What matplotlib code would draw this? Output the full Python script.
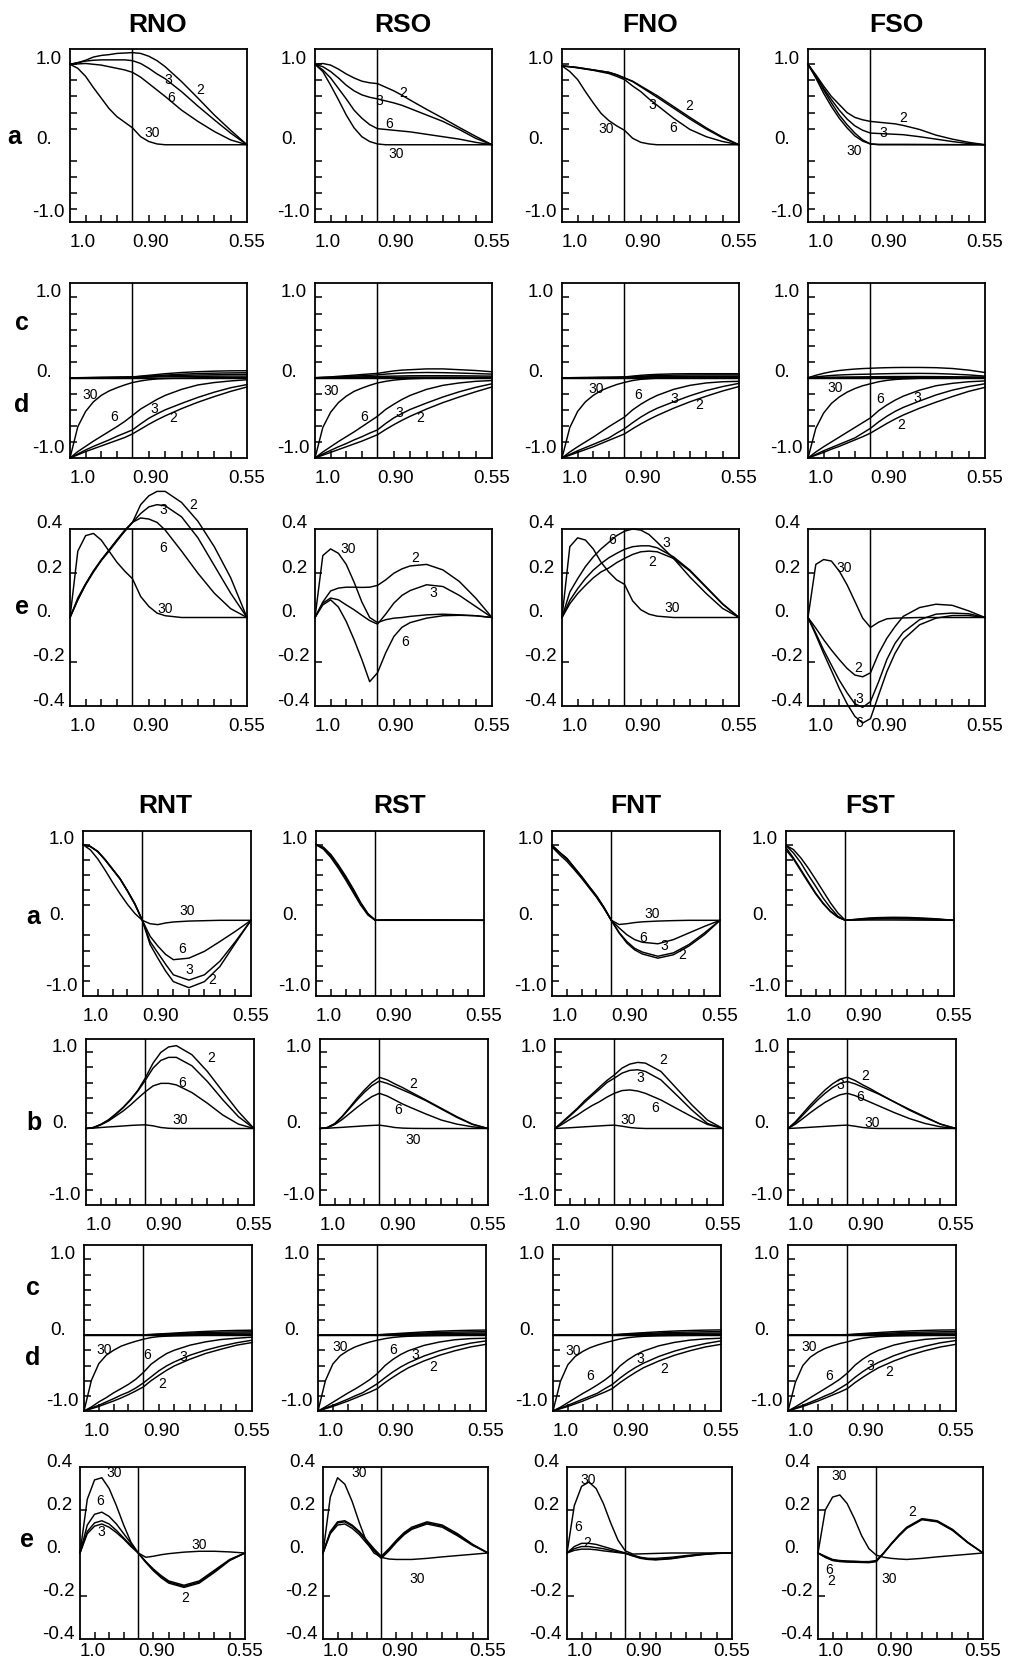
import numpy as np
import matplotlib
matplotlib.use("Agg")
import matplotlib.pyplot as plt
import matplotlib.transforms as mtransforms

SANS = ["Liberation Sans", "DejaVu Sans"]
plt.rcParams["font.family"] = SANS

FIG_W, FIG_H = 1015, 1660
SPLIT = 0.353  # share of the axis width taken by 1.0 .. 0.90
TICK_FS = 13.5

# radius grid shared by all curves
R = [1.0, 0.9875, 0.975, 0.9625, 0.95, 0.9375, 0.925, 0.9125, 0.90,
     0.875, 0.85, 0.825, 0.80, 0.75, 0.70, 0.65, 0.60, 0.55]
X_MINOR = [0.975, 0.95, 0.925, 0.85, 0.80, 0.75, 0.70, 0.65, 0.60]
X_LABELS = [(1.0, "1.0", "left"), (0.90, "0.90", "left"), (0.55, "0.55", "center")]
UNIT_YLABELS = [(1.0, "1.0"), (0.0, "0.")]
E_YLABELS = [(0.4, "0.4"), (0.2, "0.2"), (0.0, "0."), (-0.2, "-0.2"), (-0.4, "-0.4")]

# ---------------- upper block: RNO RSO FNO FSO ----------------
RNO_A = {
    "2": [1.0, 1.02, 1.05, 1.09, 1.11, 1.12, 1.135, 1.14, 1.145, 1.135, 1.10, 1.045, 0.97, 0.785, 0.58, 0.37, 0.18, 0.0],
    "3": [1.0, 1.02, 1.04, 1.05, 1.055, 1.055, 1.055, 1.055, 1.045, 1.01, 0.95, 0.88, 0.82, 0.66, 0.48, 0.31, 0.145, 0.0],
    "6": [1.0, 1.005, 1.01, 1.0, 0.99, 0.97, 0.95, 0.93, 0.90, 0.84, 0.76, 0.68, 0.60, 0.43, 0.29, 0.165, 0.06, 0.0],
    "30": [1.0, 0.95, 0.85, 0.71, 0.58, 0.45, 0.35, 0.28, 0.21, 0.10, 0.04, 0.01, 0.0, 0.0, 0.0, 0.0, 0.0, 0.0],
}
RSO_A = {
    "2": [1.0, 1.01, 0.99, 0.94, 0.88, 0.83, 0.79, 0.77, 0.76, 0.715, 0.67, 0.615, 0.555, 0.44, 0.33, 0.215, 0.105, 0.0],
    "3": [1.0, 0.97, 0.91, 0.83, 0.74, 0.67, 0.62, 0.59, 0.57, 0.545, 0.52, 0.49, 0.45, 0.37, 0.29, 0.19, 0.08, 0.0],
    "6": [1.0, 0.93, 0.83, 0.70, 0.57, 0.43, 0.33, 0.25, 0.20, 0.19, 0.18, 0.17, 0.16, 0.13, 0.10, 0.07, 0.03, 0.0],
    "30": [1.0, 0.91, 0.74, 0.56, 0.37, 0.21, 0.10, 0.04, 0.01, 0.0, 0.0, 0.0, 0.0, 0.0, 0.0, 0.0, 0.0, 0.0],
}
FNO_A = {
    "2": [0.98, 0.97, 0.96, 0.945, 0.93, 0.915, 0.90, 0.87, 0.83, 0.79, 0.73, 0.67, 0.61, 0.475, 0.34, 0.21, 0.095, 0.0],
    "3": [0.98, 0.97, 0.96, 0.945, 0.93, 0.915, 0.90, 0.87, 0.83, 0.785, 0.72, 0.655, 0.59, 0.455, 0.32, 0.195, 0.085, 0.0],
    "6": [0.98, 0.97, 0.955, 0.94, 0.925, 0.905, 0.885, 0.85, 0.81, 0.73, 0.66, 0.57, 0.49, 0.33, 0.19, 0.10, 0.04, 0.0],
    "30": [0.98, 0.91, 0.81, 0.66, 0.52, 0.39, 0.30, 0.235, 0.18, 0.08, 0.03, 0.01, 0.0, 0.0, 0.0, 0.0, 0.0, 0.0],
}
FSO_A = {
    "2": [1.0, 0.87, 0.73, 0.60, 0.50, 0.40, 0.34, 0.31, 0.29, 0.28, 0.27, 0.26, 0.24, 0.19, 0.12, 0.07, 0.03, 0.0],
    "3": [1.0, 0.855, 0.70, 0.56, 0.43, 0.32, 0.235, 0.18, 0.145, 0.14, 0.135, 0.13, 0.125, 0.10, 0.07, 0.04, 0.015, 0.0],
    "6": [1.0, 0.85, 0.68, 0.52, 0.37, 0.25, 0.145, 0.06, 0.01, 0.005, 0.005, 0.005, 0.005, 0.004, 0.003, 0.002, 0.001, 0.0],
    "30": [1.0, 0.83, 0.64, 0.475, 0.33, 0.21, 0.11, 0.045, 0.01, 0.0, 0.0, 0.0, 0.0, 0.0, 0.0, 0.0, 0.0, 0.0],
}

RNO_CD = {
    "c1": [0, 0, 0.001, 0.002, 0.003, 0.004, 0.006, 0.008, 0.01, 0.02, 0.03, 0.04, 0.05, 0.065, 0.075, 0.082, 0.086, 0.087],
    "c2": [0, 0, 0.001, 0.002, 0.003, 0.004, 0.005, 0.007, 0.009, 0.015, 0.021, 0.027, 0.033, 0.044, 0.052, 0.057, 0.06, 0.062],
    "c3": [0, 0, 0, 0.001, 0.002, 0.003, 0.004, 0.005, 0.006, 0.01, 0.014, 0.018, 0.022, 0.029, 0.034, 0.037, 0.04, 0.041],
    "c4": [0, 0, 0, 0, 0.001, 0.001, 0.002, 0.002, 0.003, 0.005, 0.007, 0.009, 0.011, 0.014, 0.017, 0.019, 0.02, 0.02],
    "2": [-1.0, -0.96, -0.92, -0.885, -0.85, -0.815, -0.78, -0.745, -0.70, -0.64, -0.58, -0.525, -0.475, -0.385, -0.305, -0.235, -0.17, -0.115],
    "3": [-1.0, -0.95, -0.90, -0.855, -0.815, -0.775, -0.73, -0.69, -0.65, -0.575, -0.505, -0.45, -0.40, -0.32, -0.245, -0.18, -0.125, -0.085],
    "6": [-1.0, -0.92, -0.855, -0.79, -0.73, -0.67, -0.61, -0.545, -0.47, -0.39, -0.33, -0.27, -0.22, -0.145, -0.09, -0.06, -0.04, -0.025],
    "30": [-1.0, -0.61, -0.42, -0.30, -0.22, -0.165, -0.125, -0.09, -0.06, -0.04, -0.025, -0.015, -0.01, -0.004, 0.0, 0.0, 0.0, 0.0],
}
RSO_CD = {
    "c1": [0, 0.005, 0.01, 0.018, 0.025, 0.032, 0.04, 0.047, 0.054, 0.07, 0.085, 0.095, 0.10, 0.11, 0.11, 0.10, 0.09, 0.074],
    "c2": [0, 0.003, 0.006, 0.01, 0.015, 0.02, 0.025, 0.03, 0.035, 0.045, 0.052, 0.058, 0.062, 0.065, 0.063, 0.058, 0.052, 0.045],
    "c3": [0, 0.001, 0.003, 0.005, 0.007, 0.009, 0.011, 0.013, 0.015, 0.018, 0.02, 0.022, 0.024, 0.025, 0.025, 0.024, 0.022, 0.02],
    "c4": [0, 0, 0, 0.001, 0.001, 0.002, 0.002, 0.003, 0.003, 0.004, 0.005, 0.006, 0.006, 0.007, 0.007, 0.007, 0.006, 0.005],
    "2": [-1.0, -0.965, -0.93, -0.895, -0.86, -0.825, -0.79, -0.75, -0.71, -0.645, -0.585, -0.53, -0.48, -0.39, -0.31, -0.24, -0.175, -0.115],
    "3": [-1.0, -0.95, -0.905, -0.86, -0.82, -0.775, -0.735, -0.69, -0.65, -0.57, -0.50, -0.445, -0.395, -0.315, -0.24, -0.175, -0.12, -0.075],
    "6": [-1.0, -0.925, -0.86, -0.795, -0.735, -0.675, -0.61, -0.545, -0.48, -0.395, -0.33, -0.27, -0.22, -0.145, -0.095, -0.065, -0.045, -0.035],
    "30": [-1.0, -0.62, -0.43, -0.31, -0.23, -0.17, -0.13, -0.095, -0.065, -0.045, -0.03, -0.02, -0.013, -0.006, -0.003, 0.0, 0.0, 0.0],
}
FNO_CD = {
    "c1": [0, 0, 0.001, 0.002, 0.003, 0.004, 0.005, 0.007, 0.01, 0.02, 0.03, 0.037, 0.042, 0.048, 0.05, 0.05, 0.05, 0.05],
    "c2": [0, 0, 0.001, 0.001, 0.002, 0.003, 0.004, 0.005, 0.007, 0.013, 0.019, 0.024, 0.028, 0.032, 0.034, 0.035, 0.035, 0.035],
    "c3": [0, 0, 0, 0.001, 0.001, 0.002, 0.002, 0.003, 0.004, 0.007, 0.01, 0.012, 0.014, 0.016, 0.017, 0.018, 0.018, 0.018],
    "c4": [0, 0, 0, 0, 0, 0.001, 0.001, 0.001, 0.002, 0.003, 0.004, 0.004, 0.005, 0.005, 0.005, 0.005, 0.005, 0.005],
    "2": [-1.0, -0.965, -0.93, -0.895, -0.86, -0.82, -0.78, -0.74, -0.70, -0.635, -0.575, -0.52, -0.47, -0.38, -0.30, -0.23, -0.165, -0.11],
    "3": [-1.0, -0.955, -0.91, -0.87, -0.83, -0.79, -0.75, -0.69, -0.635, -0.56, -0.49, -0.43, -0.38, -0.30, -0.225, -0.16, -0.11, -0.07],
    "6": [-1.0, -0.925, -0.86, -0.80, -0.74, -0.675, -0.61, -0.55, -0.49, -0.40, -0.33, -0.27, -0.22, -0.145, -0.095, -0.065, -0.05, -0.045],
    "30": [-1.0, -0.62, -0.42, -0.30, -0.22, -0.16, -0.12, -0.085, -0.058, -0.035, -0.02, -0.012, -0.006, -0.002, 0.0, 0.0, 0.0, 0.0],
}
FSO_CD = {
    "c1": [0, 0.03, 0.055, 0.075, 0.09, 0.10, 0.108, 0.114, 0.118, 0.122, 0.125, 0.127, 0.128, 0.128, 0.125, 0.115, 0.095, 0.065],
    "c2": [0, 0.01, 0.02, 0.028, 0.034, 0.038, 0.041, 0.043, 0.045, 0.048, 0.05, 0.052, 0.053, 0.054, 0.052, 0.045, 0.035, 0.02],
    "c3": [0, 0.003, 0.005, 0.007, 0.008, 0.009, 0.01, 0.011, 0.012, 0.013, 0.014, 0.015, 0.015, 0.015, 0.014, 0.012, 0.01, 0.008],
    "c4": [0, 0, 0, 0, 0.001, 0.001, 0.001, 0.002, 0.002, 0.002, 0.003, 0.003, 0.003, 0.003, 0.003, 0.003, 0.002, 0.002],
    "2": [-1.0, -0.965, -0.93, -0.89, -0.855, -0.815, -0.775, -0.735, -0.69, -0.63, -0.57, -0.515, -0.465, -0.38, -0.305, -0.235, -0.17, -0.12],
    "3": [-1.0, -0.955, -0.91, -0.87, -0.83, -0.79, -0.75, -0.69, -0.63, -0.55, -0.48, -0.42, -0.37, -0.29, -0.215, -0.155, -0.11, -0.075],
    "6": [-1.0, -0.925, -0.86, -0.80, -0.74, -0.68, -0.62, -0.56, -0.50, -0.41, -0.34, -0.28, -0.23, -0.155, -0.10, -0.07, -0.05, -0.04],
    "30": [-1.0, -0.63, -0.44, -0.32, -0.24, -0.18, -0.135, -0.10, -0.075, -0.05, -0.033, -0.022, -0.015, -0.007, -0.003, 0.0, 0.0, 0.0],
}

RNO_E = {
    "2": [0, 0.08, 0.15, 0.21, 0.26, 0.305, 0.35, 0.39, 0.43, 0.51, 0.55, 0.57, 0.57, 0.52, 0.435, 0.32, 0.18, 0.0],
    "3": [0, 0.08, 0.148, 0.205, 0.257, 0.30, 0.345, 0.39, 0.43, 0.47, 0.50, 0.51, 0.505, 0.455, 0.36, 0.235, 0.11, 0.0],
    "6": [0, 0.088, 0.153, 0.21, 0.26, 0.305, 0.35, 0.395, 0.43, 0.45, 0.445, 0.43, 0.395, 0.30, 0.20, 0.11, 0.04, 0.0],
    "30": [0, 0.30, 0.37, 0.38, 0.35, 0.30, 0.25, 0.21, 0.175, 0.095, 0.05, 0.02, 0.008, 0.0, 0.0, 0.0, 0.0, 0.0],
}
RSO_E = {
    "2": [0, 0.07, 0.12, 0.133, 0.137, 0.137, 0.136, 0.137, 0.145, 0.17, 0.20, 0.22, 0.233, 0.24, 0.215, 0.163, 0.088, 0.0],
    "3": [0, 0.065, 0.088, 0.08, 0.057, 0.035, 0.01, -0.014, -0.03, 0.015, 0.065, 0.10, 0.122, 0.148, 0.14, 0.10, 0.05, 0.0],
    "6": [0, 0.057, 0.08, 0.047, -0.018, -0.10, -0.19, -0.29, -0.25, -0.16, -0.086, -0.044, -0.023, -0.003, 0.008, 0.01, 0.008, 0.0],
    "30": [0, 0.28, 0.31, 0.29, 0.24, 0.16, 0.07, 0.0, -0.023, -0.01, -0.003, 0.0, 0.005, 0.012, 0.015, 0.012, 0.008, 0.0],
}
FNO_E = {
    "2": [0, 0.062, 0.108, 0.145, 0.179, 0.206, 0.224, 0.248, 0.267, 0.285, 0.297, 0.30, 0.297, 0.267, 0.21, 0.135, 0.06, 0.0],
    "3": [0, 0.077, 0.13, 0.176, 0.214, 0.244, 0.27, 0.29, 0.308, 0.32, 0.324, 0.324, 0.315, 0.274, 0.214, 0.138, 0.062, 0.0],
    "6": [0, 0.115, 0.175, 0.23, 0.274, 0.31, 0.34, 0.37, 0.39, 0.40, 0.395, 0.375, 0.34, 0.267, 0.183, 0.108, 0.041, 0.0],
    "30": [0, 0.32, 0.36, 0.35, 0.31, 0.25, 0.205, 0.17, 0.15, 0.075, 0.035, 0.015, 0.006, 0.0, 0.0, 0.0, 0.0, 0.0],
}
FSO_E = {
    "2": [0, -0.048, -0.10, -0.147, -0.19, -0.23, -0.26, -0.268, -0.25, -0.162, -0.094, -0.041, 0.005, 0.045, 0.06, 0.055, 0.03, 0.0],
    "3": [0, -0.071, -0.147, -0.215, -0.283, -0.34, -0.39, -0.406, -0.38, -0.29, -0.19, -0.117, -0.067, -0.01, 0.015, 0.02, 0.017, 0.0],
    "6": [0, -0.079, -0.162, -0.24, -0.32, -0.39, -0.447, -0.477, -0.457, -0.35, -0.245, -0.162, -0.10, -0.033, -0.003, 0.009, 0.009, 0.0],
    "30": [0, 0.24, 0.262, 0.255, 0.21, 0.148, 0.073, -0.003, -0.045, -0.021, -0.006, -0.003, -0.002, 0.0, 0.0, 0.0, 0.0, 0.0],
}

# ---------------- lower block: RNT RST FNT FST ----------------
RNT_A = {
    "2": [1.0, 0.975, 0.91, 0.80, 0.675, 0.55, 0.39, 0.22, 0.0, -0.32, -0.50, -0.67, -0.81, -0.89, -0.81, -0.61, -0.30, 0.0],
    "3": [1.0, 0.975, 0.91, 0.80, 0.675, 0.55, 0.39, 0.215, 0.0, -0.28, -0.43, -0.58, -0.72, -0.79, -0.72, -0.54, -0.28, 0.0],
    "6": [1.0, 0.975, 0.905, 0.795, 0.67, 0.545, 0.385, 0.21, 0.0, -0.21, -0.34, -0.45, -0.52, -0.50, -0.41, -0.28, -0.145, 0.0],
    "30": [1.0, 0.93, 0.81, 0.66, 0.50, 0.35, 0.21, 0.09, 0.0, -0.045, -0.057, -0.035, -0.022, -0.01, -0.005, 0.0, 0.0, 0.0],
}
RST_A = {
    "2": [1.0, 0.965, 0.87, 0.735, 0.585, 0.42, 0.24, 0.09, 0.0, 0.004, 0.006, 0.006, 0.006, 0.005, 0.004, 0.003, 0.002, 0.0],
    "3": [1.0, 0.96, 0.86, 0.72, 0.57, 0.405, 0.23, 0.085, 0.0, 0.003, 0.005, 0.005, 0.005, 0.004, 0.003, 0.002, 0.001, 0.0],
    "6": [1.0, 0.955, 0.85, 0.71, 0.555, 0.39, 0.22, 0.08, 0.0, 0.002, 0.003, 0.003, 0.003, 0.003, 0.002, 0.001, 0.001, 0.0],
    "30": [1.0, 0.94, 0.83, 0.69, 0.535, 0.37, 0.205, 0.07, 0.0, 0.0, 0.0, 0.0, 0.0, 0.0, 0.0, 0.0, 0.0, 0.0],
}
FNT_A = {
    "2": [0.99, 0.90, 0.82, 0.70, 0.58, 0.45, 0.325, 0.175, 0.0, -0.167, -0.30, -0.39, -0.445, -0.50, -0.455, -0.34, -0.19, 0.0],
    "3": [0.99, 0.90, 0.815, 0.695, 0.575, 0.445, 0.32, 0.17, 0.0, -0.16, -0.28, -0.37, -0.42, -0.475, -0.43, -0.32, -0.167, 0.0],
    "6": [0.99, 0.895, 0.81, 0.69, 0.57, 0.44, 0.315, 0.165, 0.0, -0.10, -0.19, -0.255, -0.29, -0.31, -0.255, -0.167, -0.08, 0.0],
    "30": [0.97, 0.87, 0.78, 0.67, 0.555, 0.43, 0.305, 0.16, 0.0, -0.055, -0.045, -0.03, -0.02, -0.01, -0.004, 0.0, 0.0, 0.0],
}
FST_A = {
    "2": [0.99, 0.935, 0.825, 0.69, 0.54, 0.385, 0.23, 0.097, 0.0, 0.01, 0.02, 0.03, 0.035, 0.04, 0.038, 0.03, 0.018, 0.0],
    "3": [0.99, 0.89, 0.76, 0.60, 0.45, 0.295, 0.165, 0.053, 0.0, 0.008, 0.016, 0.022, 0.027, 0.03, 0.028, 0.022, 0.012, 0.0],
    "6": [0.96, 0.825, 0.67, 0.515, 0.36, 0.23, 0.12, 0.044, 0.0, 0.005, 0.01, 0.014, 0.017, 0.02, 0.018, 0.014, 0.008, 0.0],
    "30": [0.93, 0.81, 0.655, 0.50, 0.35, 0.22, 0.115, 0.04, 0.0, 0.002, 0.003, 0.004, 0.004, 0.004, 0.003, 0.002, 0.001, 0.0],
}

RNT_B = {
    "2": [0, 0.013, 0.053, 0.11, 0.19, 0.276, 0.38, 0.50, 0.66, 0.855, 0.995, 1.066, 1.083, 0.965, 0.745, 0.48, 0.22, 0.0],
    "3": [0, 0.013, 0.053, 0.11, 0.184, 0.27, 0.37, 0.49, 0.63, 0.79, 0.89, 0.93, 0.93, 0.82, 0.614, 0.373, 0.154, 0.0],
    "6": [0, 0.01, 0.048, 0.096, 0.162, 0.228, 0.307, 0.395, 0.48, 0.557, 0.59, 0.59, 0.57, 0.47, 0.33, 0.175, 0.057, 0.0],
    "30": [0, 0.005, 0.013, 0.02, 0.026, 0.033, 0.04, 0.045, 0.048, 0.035, 0.013, 0.003, 0.0, 0.0, 0.0, 0.0, 0.0, 0.0],
}
RST_B = {
    "2": [0, 0.013, 0.066, 0.16, 0.276, 0.395, 0.504, 0.60, 0.67, 0.636, 0.583, 0.535, 0.48, 0.373, 0.263, 0.154, 0.057, 0.0],
    "3": [0, 0.013, 0.061, 0.154, 0.263, 0.373, 0.474, 0.56, 0.62, 0.59, 0.548, 0.504, 0.46, 0.364, 0.254, 0.145, 0.053, 0.0],
    "6": [0, 0.01, 0.053, 0.118, 0.197, 0.276, 0.35, 0.417, 0.46, 0.425, 0.373, 0.32, 0.276, 0.19, 0.11, 0.057, 0.022, 0.0],
    "30": [0, 0.003, 0.01, 0.015, 0.022, 0.028, 0.035, 0.04, 0.044, 0.03, 0.013, 0.005, 0.002, 0.0, 0.0, 0.0, 0.0, 0.0],
}
FNT_B = {
    "2": [0, 0.088, 0.175, 0.263, 0.364, 0.45, 0.54, 0.627, 0.70, 0.79, 0.842, 0.864, 0.855, 0.746, 0.526, 0.307, 0.11, 0.0],
    "3": [0, 0.079, 0.162, 0.25, 0.342, 0.43, 0.513, 0.60, 0.658, 0.724, 0.76, 0.768, 0.746, 0.636, 0.44, 0.24, 0.066, 0.0],
    "6": [0, 0.057, 0.118, 0.175, 0.24, 0.30, 0.35, 0.41, 0.46, 0.496, 0.504, 0.49, 0.46, 0.373, 0.263, 0.154, 0.053, 0.0],
    "30": [0, 0.005, 0.01, 0.016, 0.022, 0.028, 0.034, 0.04, 0.044, 0.03, 0.013, 0.004, 0.0, 0.0, 0.0, 0.0, 0.0, 0.0],
}
FST_B = {
    "2": [0, 0.088, 0.197, 0.307, 0.408, 0.504, 0.583, 0.645, 0.67, 0.627, 0.57, 0.518, 0.46, 0.35, 0.24, 0.145, 0.057, 0.0],
    "3": [0, 0.075, 0.175, 0.276, 0.373, 0.46, 0.535, 0.59, 0.614, 0.583, 0.54, 0.496, 0.452, 0.35, 0.25, 0.154, 0.057, 0.0],
    "6": [0, 0.057, 0.13, 0.206, 0.276, 0.342, 0.395, 0.44, 0.46, 0.43, 0.386, 0.342, 0.298, 0.21, 0.13, 0.066, 0.022, 0.0],
    "30": [0, 0.005, 0.01, 0.016, 0.022, 0.028, 0.034, 0.04, 0.044, 0.03, 0.013, 0.004, 0.0, 0.0, 0.0, 0.0, 0.0, 0.0],
}

RNT_CD = {
    "c1": [0, 0, 0, 0.001, 0.001, 0.002, 0.003, 0.004, 0.005, 0.01, 0.016, 0.022, 0.028, 0.04, 0.05, 0.058, 0.063, 0.066],
    "c2": [0, 0, 0, 0, 0.001, 0.001, 0.002, 0.003, 0.004, 0.008, 0.012, 0.016, 0.02, 0.028, 0.035, 0.04, 0.043, 0.045],
    "c3": [0, 0, 0, 0, 0, 0.001, 0.001, 0.002, 0.002, 0.005, 0.007, 0.01, 0.012, 0.017, 0.021, 0.024, 0.027, 0.028],
    "c4": [0, 0, 0, 0, 0, 0, 0.001, 0.001, 0.001, 0.002, 0.003, 0.004, 0.005, 0.007, 0.009, 0.01, 0.011, 0.012],
    "2": [-1.0, -0.97, -0.94, -0.903, -0.868, -0.828, -0.784, -0.735, -0.683, -0.60, -0.53, -0.463, -0.405, -0.317, -0.242, -0.185, -0.132, -0.097],
    "3": [-1.0, -0.96, -0.925, -0.88, -0.837, -0.79, -0.75, -0.696, -0.63, -0.55, -0.47, -0.405, -0.352, -0.264, -0.198, -0.145, -0.10, -0.066],
    "6": [-1.0, -0.947, -0.88, -0.824, -0.76, -0.705, -0.648, -0.58, -0.493, -0.383, -0.308, -0.242, -0.198, -0.132, -0.088, -0.057, -0.04, -0.026],
    "30": [-1.0, -0.595, -0.375, -0.264, -0.198, -0.145, -0.11, -0.08, -0.053, -0.031, -0.018, -0.013, -0.009, -0.004, 0.0, 0.0, 0.0, 0.0],
}
RST_CD = {
    "c1": [0, 0, 0, 0.001, 0.002, 0.003, 0.004, 0.005, 0.006, 0.012, 0.018, 0.025, 0.031, 0.043, 0.053, 0.06, 0.065, 0.068],
    "c2": [0, 0, 0, 0, 0.001, 0.001, 0.002, 0.003, 0.004, 0.008, 0.012, 0.016, 0.021, 0.029, 0.036, 0.041, 0.044, 0.046],
    "c3": [0, 0, 0, 0, 0, 0.001, 0.001, 0.002, 0.002, 0.005, 0.007, 0.01, 0.012, 0.017, 0.021, 0.024, 0.027, 0.028],
    "c4": [0, 0, 0, 0, 0, 0, 0.001, 0.001, 0.001, 0.002, 0.003, 0.004, 0.005, 0.007, 0.009, 0.01, 0.011, 0.012],
    "2": [-1.0, -0.97, -0.94, -0.905, -0.87, -0.83, -0.79, -0.75, -0.705, -0.625, -0.555, -0.49, -0.43, -0.34, -0.265, -0.205, -0.155, -0.12],
    "3": [-1.0, -0.96, -0.925, -0.885, -0.845, -0.80, -0.76, -0.70, -0.64, -0.56, -0.485, -0.42, -0.365, -0.275, -0.205, -0.15, -0.105, -0.075],
    "6": [-1.0, -0.945, -0.885, -0.825, -0.765, -0.71, -0.65, -0.585, -0.507, -0.40, -0.32, -0.255, -0.205, -0.135, -0.09, -0.06, -0.045, -0.04],
    "30": [-1.0, -0.60, -0.38, -0.27, -0.205, -0.155, -0.12, -0.09, -0.066, -0.045, -0.03, -0.02, -0.014, -0.008, -0.004, -0.002, 0.0, 0.0],
}
FNT_CD = {
    "c1": [0, 0, 0, 0.001, 0.002, 0.003, 0.004, 0.005, 0.006, 0.013, 0.02, 0.027, 0.033, 0.045, 0.055, 0.062, 0.067, 0.07],
    "c2": [0, 0, 0, 0, 0.001, 0.001, 0.002, 0.003, 0.004, 0.008, 0.012, 0.017, 0.022, 0.03, 0.037, 0.042, 0.045, 0.047],
    "c3": [0, 0, 0, 0, 0, 0.001, 0.001, 0.002, 0.002, 0.005, 0.007, 0.01, 0.012, 0.017, 0.021, 0.024, 0.027, 0.028],
    "c4": [0, 0, 0, 0, 0, 0, 0.001, 0.001, 0.001, 0.002, 0.003, 0.004, 0.005, 0.007, 0.009, 0.01, 0.011, 0.012],
    "2": [-1.0, -0.97, -0.94, -0.905, -0.87, -0.83, -0.79, -0.75, -0.705, -0.625, -0.555, -0.49, -0.43, -0.34, -0.265, -0.205, -0.155, -0.12],
    "3": [-1.0, -0.96, -0.925, -0.885, -0.845, -0.805, -0.765, -0.705, -0.65, -0.565, -0.49, -0.425, -0.37, -0.28, -0.21, -0.155, -0.11, -0.075],
    "6": [-1.0, -0.95, -0.89, -0.83, -0.77, -0.715, -0.655, -0.59, -0.515, -0.405, -0.325, -0.26, -0.21, -0.14, -0.095, -0.065, -0.048, -0.04],
    "30": [-1.0, -0.61, -0.39, -0.28, -0.215, -0.165, -0.13, -0.10, -0.075, -0.05, -0.033, -0.022, -0.015, -0.008, -0.004, -0.002, 0.0, 0.0],
}
FST_CD = {
    "c1": [0, 0, 0.001, 0.002, 0.003, 0.004, 0.005, 0.006, 0.008, 0.015, 0.022, 0.029, 0.035, 0.047, 0.056, 0.063, 0.068, 0.07],
    "c2": [0, 0, 0, 0.001, 0.001, 0.002, 0.003, 0.003, 0.004, 0.009, 0.013, 0.018, 0.022, 0.03, 0.037, 0.042, 0.045, 0.047],
    "c3": [0, 0, 0, 0, 0, 0.001, 0.001, 0.002, 0.002, 0.005, 0.007, 0.01, 0.012, 0.017, 0.021, 0.024, 0.027, 0.028],
    "c4": [0, 0, 0, 0, 0, 0, 0.001, 0.001, 0.001, 0.002, 0.003, 0.004, 0.005, 0.007, 0.009, 0.01, 0.011, 0.012],
    "2": [-1.0, -0.97, -0.94, -0.905, -0.87, -0.83, -0.79, -0.75, -0.705, -0.625, -0.555, -0.49, -0.43, -0.34, -0.265, -0.205, -0.155, -0.12],
    "3": [-1.0, -0.96, -0.925, -0.885, -0.845, -0.80, -0.76, -0.70, -0.64, -0.555, -0.48, -0.415, -0.36, -0.27, -0.20, -0.145, -0.10, -0.07],
    "6": [-1.0, -0.945, -0.885, -0.825, -0.765, -0.705, -0.645, -0.58, -0.50, -0.395, -0.315, -0.25, -0.20, -0.13, -0.085, -0.055, -0.04, -0.035],
    "30": [-1.0, -0.62, -0.40, -0.29, -0.225, -0.175, -0.14, -0.11, -0.088, -0.06, -0.04, -0.027, -0.018, -0.01, -0.005, -0.002, 0.0, 0.0],
}

RNT_E = {
    "2": [0, 0.09, 0.125, 0.135, 0.12, 0.095, 0.065, 0.03, 0.0, -0.044, -0.083, -0.115, -0.14, -0.16, -0.14, -0.09, -0.035, 0.0],
    "3": [0, 0.10, 0.14, 0.15, 0.135, 0.105, 0.07, 0.035, 0.0, -0.042, -0.08, -0.11, -0.135, -0.155, -0.135, -0.085, -0.032, 0.0],
    "6": [0, 0.13, 0.18, 0.19, 0.17, 0.135, 0.09, 0.045, 0.0, -0.04, -0.075, -0.105, -0.13, -0.15, -0.13, -0.08, -0.03, 0.0],
    "30": [0, 0.25, 0.34, 0.35, 0.30, 0.22, 0.13, 0.05, 0.0, -0.02, -0.015, -0.008, -0.003, 0.004, 0.008, 0.008, 0.005, 0.0],
}
RST_E = {
    "2": [0, 0.10, 0.145, 0.15, 0.13, 0.10, 0.06, 0.02, -0.015, 0.02, 0.06, 0.095, 0.12, 0.145, 0.13, 0.09, 0.04, 0.0],
    "3": [0, 0.095, 0.14, 0.145, 0.125, 0.095, 0.055, 0.015, -0.02, 0.015, 0.055, 0.09, 0.115, 0.14, 0.125, 0.085, 0.038, 0.0],
    "6": [0, 0.09, 0.13, 0.135, 0.115, 0.085, 0.045, 0.01, -0.025, 0.01, 0.05, 0.085, 0.11, 0.135, 0.12, 0.08, 0.035, 0.0],
    "30": [0, 0.26, 0.35, 0.32, 0.24, 0.14, 0.05, 0.0, -0.02, -0.028, -0.03, -0.03, -0.03, -0.025, -0.018, -0.012, -0.006, 0.0],
}
FNT_E = {
    "2": [0, 0.012, 0.018, 0.018, 0.015, 0.01, 0.006, 0.002, -0.002, -0.014, -0.025, -0.03, -0.032, -0.027, -0.017, -0.008, -0.002, 0.0],
    "3": [0, 0.02, 0.03, 0.03, 0.025, 0.02, 0.012, 0.005, 0.0, -0.012, -0.022, -0.028, -0.03, -0.025, -0.015, -0.007, -0.002, 0.0],
    "6": [0, 0.03, 0.045, 0.045, 0.04, 0.03, 0.02, 0.01, 0.0, -0.01, -0.02, -0.025, -0.025, -0.02, -0.012, -0.005, 0.0, 0.0],
    "30": [0, 0.22, 0.31, 0.33, 0.30, 0.23, 0.14, 0.06, 0.01, -0.005, -0.004, -0.003, -0.002, 0.0, 0.0, 0.0, 0.0, 0.0],
}
FST_E = {
    "2": [0, -0.02, -0.035, -0.04, -0.042, -0.043, -0.044, -0.045, -0.04, 0.0, 0.045, 0.085, 0.12, 0.16, 0.15, 0.11, 0.05, 0.0],
    "3": [0, -0.015, -0.03, -0.035, -0.037, -0.038, -0.04, -0.04, -0.035, 0.002, 0.043, 0.082, 0.117, 0.157, 0.147, 0.107, 0.049, 0.0],
    "6": [0, -0.02, -0.033, -0.038, -0.04, -0.041, -0.042, -0.043, -0.038, 0.0, 0.042, 0.08, 0.115, 0.155, 0.145, 0.105, 0.048, 0.0],
    "30": [0, 0.20, 0.26, 0.27, 0.23, 0.16, 0.08, 0.02, -0.01, -0.02, -0.025, -0.028, -0.03, -0.025, -0.018, -0.012, -0.006, 0.0],
}

# curve-label placement: (text, x as axes fraction, y in data units)
LABELS = {
    "RNO_A": [("2", 0.734, 0.68), ("3", 0.554, 0.81), ("6", 0.569, 0.58), ("30", 0.465, 0.145)],
    "RSO_A": [("2", 0.497, 0.64), ("3", 0.364, 0.54), ("6", 0.421, 0.26), ("30", 0.459, -0.12)],
    "FNO_A": [("3", 0.51, 0.50), ("2", 0.72, 0.48), ("6", 0.625, 0.21), ("30", 0.248, 0.19)],
    "FSO_A": [("2", 0.538, 0.33), ("3", 0.424, 0.145), ("30", 0.26, -0.08)],
    "RNO_CD": [("30", 0.113, -0.215), ("6", 0.248, -0.485), ("3", 0.474, -0.39), ("2", 0.583, -0.505)],
    "RSO_CD": [("30", 0.094, -0.17), ("6", 0.278, -0.485), ("3", 0.478, -0.435), ("2", 0.595, -0.505)],
    "FNO_CD": [("30", 0.192, -0.14), ("6", 0.428, -0.215), ("3", 0.636, -0.26), ("2", 0.777, -0.34)],
    "FSO_CD": [("30", 0.152, -0.125), ("6", 0.41, -0.27), ("3", 0.62, -0.25), ("2", 0.524, -0.59)],
    "RNO_E": [("2", 0.697, 0.51), ("3", 0.525, 0.485), ("6", 0.527, 0.315), ("30", 0.54, 0.038)],
    "RSO_E": [("30", 0.188, 0.31), ("2", 0.568, 0.27), ("3", 0.666, 0.11), ("6", 0.512, -0.11)],
    "FNO_E": [("6", 0.284, 0.35), ("3", 0.587, 0.335), ("2", 0.511, 0.25), ("30", 0.625, 0.042)],
    "FSO_E": [("30", 0.202, 0.225), ("2", 0.282, -0.23), ("3", 0.287, -0.37), ("6", 0.291, -0.475)],
    "RNT_A": [("30", 0.618, 0.12), ("6", 0.588, -0.375), ("3", 0.633, -0.65), ("2", 0.767, -0.785)],
    "RST_A": [],
    "FNT_A": [("30", 0.598, 0.09), ("6", 0.544, -0.235), ("3", 0.667, -0.335), ("2", 0.777, -0.455)],
    "FST_A": [],
    "RNT_B": [("2", 0.748, 0.92), ("6", 0.57, 0.60), ("30", 0.56, 0.11)],
    "RST_B": [("2", 0.554, 0.583), ("6", 0.465, 0.24), ("30", 0.554, -0.154)],
    "FNT_B": [("2", 0.646, 0.90), ("3", 0.507, 0.66), ("6", 0.596, 0.263), ("30", 0.437, 0.11)],
    "FST_B": [("2", 0.462, 0.68), ("3", 0.313, 0.57), ("6", 0.432, 0.41), ("30", 0.502, 0.075)],
    "RNT_CD": [("30", 0.119, -0.20), ("6", 0.374, -0.265), ("3", 0.592, -0.286), ("2", 0.463, -0.64)],
    "RST_CD": [("30", 0.129, -0.154), ("6", 0.447, -0.20), ("3", 0.577, -0.264), ("2", 0.686, -0.42)],
    "FNT_CD": [("30", 0.12, -0.207), ("6", 0.219, -0.54), ("3", 0.522, -0.32), ("2", 0.661, -0.44)],
    "FST_CD": [("30", 0.124, -0.154), ("6", 0.243, -0.54), ("3", 0.488, -0.41), ("2", 0.602, -0.485)],
    "RNT_E": [("30", 0.21, 0.37), ("6", 0.12, 0.24), ("3", 0.13, 0.10), ("30", 0.72, 0.035), ("2", 0.64, -0.21)],
    "RST_E": [("30", 0.22, 0.37), ("30", 0.57, -0.12)],
    "FNT_E": [("30", 0.13, 0.34), ("6", 0.07, 0.12), ("2", 0.12, 0.045)],
    "FST_E": [("30", 0.13, 0.36), ("6", 0.07, -0.08), ("2", 0.08, -0.13), ("2", 0.57, 0.19), ("30", 0.43, -0.12)],
}

DATA = {
    "RNO_A": RNO_A, "RSO_A": RSO_A, "FNO_A": FNO_A, "FSO_A": FSO_A,
    "RNO_CD": RNO_CD, "RSO_CD": RSO_CD, "FNO_CD": FNO_CD, "FSO_CD": FSO_CD,
    "RNO_E": RNO_E, "RSO_E": RSO_E, "FNO_E": FNO_E, "FSO_E": FSO_E,
    "RNT_A": RNT_A, "RST_A": RST_A, "FNT_A": FNT_A, "FST_A": FST_A,
    "RNT_B": RNT_B, "RST_B": RST_B, "FNT_B": FNT_B, "FST_B": FST_B,
    "RNT_CD": RNT_CD, "RST_CD": RST_CD, "FNT_CD": FNT_CD, "FST_CD": FST_CD,
    "RNT_E": RNT_E, "RST_E": RST_E, "FNT_E": FNT_E, "FST_E": FST_E,
}

# row layout in pixels: (columns, row suffix, kind, ylim, top, height, lefts, width, x-label gap)
ROWS = [
    (["RNO", "RSO", "FNO", "FSO"], "A", "unit", (-0.96, 1.19), 49, 173, [70, 315, 562, 808], 177, 12),
    (["RNO", "RSO", "FNO", "FSO"], "CD", "unit", (-1.0, 1.18), 283, 175, [70, 315, 562, 808], 177, 12),
    (["RNO", "RSO", "FNO", "FSO"], "E", "e", (-0.4, 0.4), 529, 177, [70, 315, 562, 808], 177, 12),
    (["RNT", "RST", "FNT", "FST"], "A", "unit", (-1.0, 1.18), 831, 165, [83, 316, 552, 786], 168, 12),
    (["RNT", "RST", "FNT", "FST"], "B", "unit", (-1.0, 1.17), 1039, 166, [86, 320, 555, 788], 168, 12),
    (["RNT", "RST", "FNT", "FST"], "CD", "unit", (-1.0, 1.19), 1245, 166, [84, 318, 553, 788], 168, 12),
    (["RNT", "RST", "FNT", "FST"], "E", "e", (-0.4, 0.4), 1467, 172, [80, 323, 567, 818], 165, 4),
]

TITLES = [("RNO", 158, 25), ("RSO", 403, 25), ("FNO", 650, 25), ("FSO", 896, 25),
          ("RNT", 165, 806), ("RST", 400, 806), ("FNT", 636, 806), ("FST", 870, 806)]
ROW_LETTERS = [("a", 14, 137), ("c", 22, 323), ("d", 22, 405), ("e", 22, 607),
               ("a", 33, 917), ("b", 34, 1123), ("c", 33, 1288), ("d", 33, 1358), ("e", 27, 1540)]


def position(r):
    r = np.asarray(r, dtype=float)
    return np.where(r >= 0.9, (1.0 - r) / 0.1 * SPLIT,
                    SPLIT + (0.9 - r) / 0.35 * (1 - SPLIT))


def fwd(r):
    # increasing in r; with xlim(1.0, 0.55) the axis runs 1.0 -> 0.55
    return -position(r)


def inv(q):
    p = -np.asarray(q, dtype=float)
    return np.where(p <= SPLIT, 1.0 - p / SPLIT * 0.1,
                    0.9 - (p - SPLIT) / (1 - SPLIT) * 0.35)


def draw_panel(fig, ax, curves, labels, kind, ylim, xgap):
    ax.set_xscale("function", functions=(fwd, inv))
    for vals in curves.values():
        ax.plot(R, vals, color="black", lw=1.05, clip_on=False, solid_joinstyle="round")
    ax.axvline(0.90, color="black", lw=1.05)
    if "c1" in curves:
        ax.axhline(0.0, color="black", lw=1.05)
    ax.set_xlim(1.0, 0.55)
    ax.set_ylim(*ylim)
    for sp in ax.spines.values():
        sp.set_linewidth(1.3)

    # tick marks, all pointing inwards
    ax.set_xticks([])
    ax.set_xticks(X_MINOR, minor=True)
    if kind == "unit":
        yt = [v for v in np.round(np.arange(-0.8, 1.01, 0.2), 2) if abs(v) > 1e-9]
    else:
        yt = [-0.2, 0.2]
    ax.set_yticks([])
    ax.set_yticks(yt, minor=True)
    ax.tick_params(which="minor", direction="in", length=5, width=1.1,
                   top=False, right=False, labelbottom=False, labelleft=False)

    # tick labels
    xtr = mtransforms.blended_transform_factory(ax.transData, ax.transAxes)
    xtr = mtransforms.offset_copy(xtr, fig=fig, x=0, y=-xgap, units="dots")
    for r, txt, ha in X_LABELS:
        ax.text(r, 0, txt, transform=xtr, ha=ha, va="top", fontsize=TICK_FS)
    ytr = mtransforms.blended_transform_factory(ax.transAxes, ax.transData)
    ylabels = UNIT_YLABELS if kind == "unit" else E_YLABELS
    for v, txt in ylabels:
        dx = -38 if txt.startswith("-") else -34
        t = mtransforms.offset_copy(ytr, fig=fig, x=dx, y=5, units="dots")
        ax.text(0, v, txt, transform=t, ha="left", va="center", fontsize=TICK_FS)
    if kind == "unit":
        t = mtransforms.offset_copy(ax.transAxes, fig=fig, x=-38, y=1, units="dots")
        ax.text(0, 0, "-1.0", transform=t, ha="left", va="bottom", fontsize=TICK_FS)

    # curve labels
    ltr = mtransforms.blended_transform_factory(ax.transAxes, ax.transData)
    for txt, xf, yv in labels:
        ax.text(xf, yv, txt, transform=ltr, ha="center", va="center", fontsize=10)


fig = plt.figure(figsize=(FIG_W / 100, FIG_H / 100), dpi=100)

for cols, suffix, kind, ylim, top, height, lefts, width, xgap in ROWS:
    for name, left in zip(cols, lefts):
        key = f"{name}_{suffix}"
        ax = fig.add_axes([left / FIG_W, 1 - (top + height) / FIG_H, width / FIG_W, height / FIG_H])
        draw_panel(fig, ax, DATA[key], LABELS[key], kind, ylim, xgap)

for txt, x, y in TITLES:
    fig.text(x / FIG_W, 1 - y / FIG_H, txt, ha="center", va="center",
             fontsize=19, fontweight="bold")
for txt, x, y in ROW_LETTERS:
    fig.text(x / FIG_W, 1 - y / FIG_H, txt, ha="center", va="center",
             fontsize=18, fontweight="bold")

fig.savefig("out.png", dpi=100)
